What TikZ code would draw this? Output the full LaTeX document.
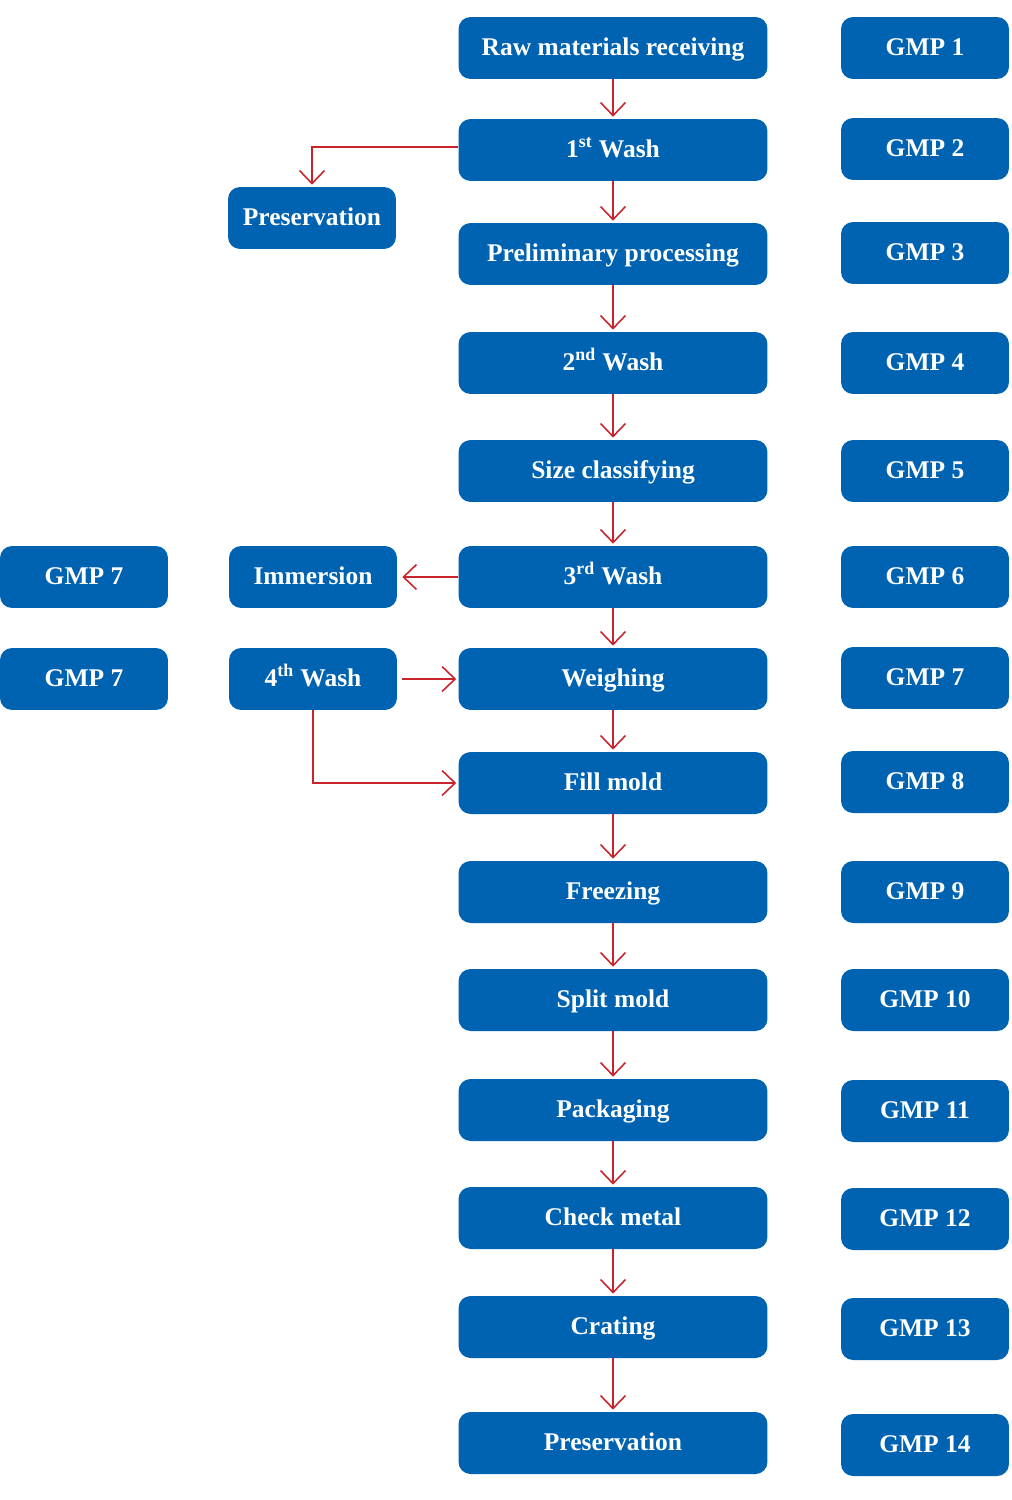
\documentclass[tikz,border=0pt]{standalone}
\usepackage{fontspec}
\setmainfont{Liberation Serif}
\usetikzlibrary{arrows.meta}
\definecolor{boxblue}{RGB}{0,99,177}
\definecolor{arrowred}{RGB}{200,36,44}
\begin{document}
\begin{tikzpicture}[x=0.02cm,y=-0.02cm,
    etape/.style={rectangle,rounded corners=0.24cm,fill=boxblue,text=white,
        font=\fontsize{14.5}{16}\selectfont\bfseries,
        text height=10pt,text depth=2pt,
        minimum width=6.18cm,minimum height=1.24cm,inner sep=0pt},
    gmp/.style={etape,minimum width=3.36cm},
    fleche/.style={arrowred,line width=0.9pt,
        -{Straight Barb[length=0.26cm,width=0.5cm]}}]
    \useasboundingbox (0,0) rectangle (1011,1500);
    %main column
    \node[etape] (s1) at (613,48) {Raw materials receiving};
    \node[etape] (s2) at (613,150) {1\textsuperscript{st} Wash};
    \node[etape] (s3) at (613,254) {Preliminary processing};
    \node[etape] (s4) at (613,363) {2\textsuperscript{nd} Wash};
    \node[etape] (s5) at (613,471) {Size classifying};
    \node[etape] (s6) at (613,577) {3\textsuperscript{rd} Wash};
    \node[etape] (s7) at (613,679) {Weighing};
    \node[etape] (s8) at (613,783) {Fill mold};
    \node[etape] (s9) at (613,892) {Freezing};
    \node[etape] (s10) at (613,1000) {Split mold};
    \node[etape] (s11) at (613,1110) {Packaging};
    \node[etape] (s12) at (613,1218) {Check metal};
    \node[etape] (s13) at (613,1327) {Crating};
    \node[etape] (s14) at (613,1443) {Preservation};
    %GMP column
    \foreach \y [count=\i] in {48,149,253,363,471,577,678,782,892,1000,1111,1219,1329,1445}
        \node[gmp] (gmp\i) at (925,\y) {GMP \i};
    %left side
    \node[gmp] (pres) at (312,218) {Preservation};
    \node[gmp] (imm) at (313,577) {Immersion};
    \node[gmp] (w4) at (313,679) {4\textsuperscript{th} Wash};
    \node[gmp] (gmpimm) at (84,577) {GMP 7};
    \node[gmp] (gmpw4) at (84,679) {GMP 7};
    %arrows
    \foreach \a/\b in {s1/s2,s2/s3,s3/s4,s4/s5,s5/s6,s6/s7,s7/s8,s8/s9,s9/s10,s10/s11,s11/s12,s12/s13,s13/s14}
        \draw[fleche,shorten >=0.04cm] (\a.south) -- (\b.north);
    \draw[fleche,shorten >=0.04cm] ([yshift=0.06cm]s2.west) -| (pres.north);
    \draw[fleche,shorten >=0.1cm] (s6.west) -- (imm.east);
    \draw[fleche,shorten <=0.1cm,shorten >=0.04cm] (w4.east) -- (s7.west);
    \draw[fleche,shorten >=0.04cm] (w4.south) |- (s8.west);
\end{tikzpicture}
\end{document}
